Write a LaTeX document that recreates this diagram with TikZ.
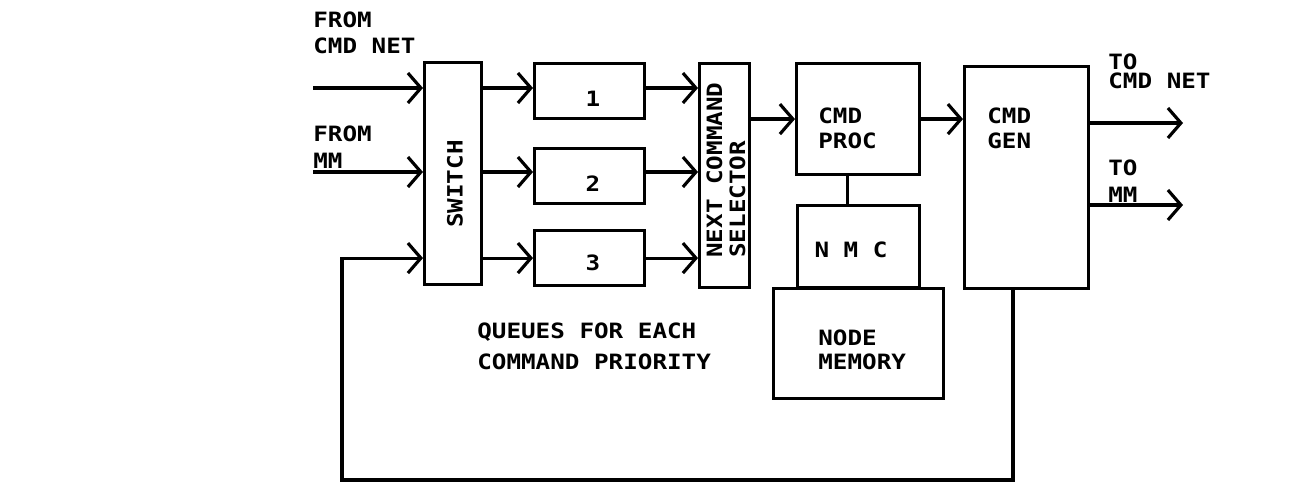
\documentclass[tikz,border=0pt]{standalone}
\usepackage{fontspec}
\newfontfamily\plotfont[FakeStretch=1.15]{DejaVu Sans Mono}
\usetikzlibrary{arrows.meta}

\begin{document}
\begin{tikzpicture}[x=0.02cm,y=-0.02cm,
    blkNC/.style={draw=black,line width=1.8pt,inner sep=0pt,anchor=north west},
    lineNC/.style={line width=1.8pt},
    arrNC/.style={line width=1.8pt,-{Straight Barb[length=0.26cm,width=0.6cm]}},
    txtNC/.style={font=\plotfont\bfseries\fontsize{12}{#1}\selectfont,inner sep=0pt,align=left},
    txtNC/.default=14,
]
\useasboundingbox (0,0) rectangle (1300,491);
% Switch and priority queues
\node[blkNC,minimum width=1.14cm,minimum height=4.44cm] (sw) at (423,61) {};
\node[blkNC,minimum width=2.2cm,minimum height=1.1cm] (q1) at (533,62) {};
\node[blkNC,minimum width=2.2cm,minimum height=1.1cm] (q2) at (533,147) {};
\node[blkNC,minimum width=2.2cm,minimum height=1.1cm] (q3) at (533,229) {};
% Next command selector
\node[blkNC,minimum width=1.0cm,minimum height=4.48cm] (ncs) at (698,62) {};
% Processor, NMC, memory, generator
\node[blkNC,minimum width=2.46cm,minimum height=2.22cm] (proc) at (795,62) {};
\node[blkNC,minimum width=2.44cm,minimum height=1.64cm] (nmc) at (796,204) {};
\node[blkNC,minimum width=3.4cm,minimum height=2.2cm] (mem) at (772,287) {};
\node[blkNC,minimum width=2.48cm,minimum height=4.44cm] (gen) at (963,65) {};
% Texts
\node[txtNC=14.8,anchor=west] (fromNet) at (313,33) {FROM\\CMD NET};
\node[txtNC=15.4,anchor=west] (fromMM) at (313,147) {FROM\\MM};
\node[txtNC=10.8,anchor=west] (toNet) at (1108,71) {TO\\CMD NET};
\node[txtNC=15.4,anchor=west] (toMM) at (1108,181) {TO\\MM};
\node[txtNC,rotate=90] (swTxt) at (455,184) {SWITCH};
\node[txtNC] (q1Txt) at (593,99) {1};
\node[txtNC] (q2Txt) at (593,184) {2};
\node[txtNC] (q3Txt) at (593,263) {3};
\node[txtNC=13.1,rotate=90,anchor=west] (ncsTxt) at (726,258) {NEXT COMMAND\\SELECTOR};
\node[txtNC=14.2,anchor=west] (procTxt) at (818,128) {CMD\\PROC};
\node[txtNC=14.2,anchor=west] (genTxt) at (987,128) {CMD\\GEN};
\node[txtNC] (nmcTxt) at (851,250) {N M C};
\node[txtNC=13.7,anchor=west] (memTxt) at (818,350) {NODE\\MEMORY};
\node[txtNC=17.6,anchor=west] (qTxt) at (477,346) {QUEUES FOR EACH\\COMMAND PRIORITY};
% Free ends
\coordinate (in1) at (313,88);
\coordinate (in2) at (313,172);
\coordinate (out1) at (1183,123);
\coordinate (out2) at (1183,205);
\coordinate (fbR) at (1013,480);
\coordinate (fbL) at (342,480);
% Inputs to switch
\draw[arrNC] (in1) -- (in1 -| sw.west);
\draw[arrNC] (in2) -- (in2 -| sw.west);
% Switch to queues, queues to selector
\draw[arrNC] (sw.east |- in1) -- (q1.west |- in1);
\draw[arrNC] (sw.east |- in2) -- (q2.west |- in2);
\draw[arrNC] (sw.east |- q3.west) -- (q3.west);
\draw[arrNC] (q1.east |- in1) -- (ncs.west |- in1);
\draw[arrNC] (q2.east |- in2) -- (ncs.west |- in2);
\draw[arrNC] (q3.east) -- (ncs.west |- q3.east);
% Selector to processor to generator
\draw[arrNC] (ncs.east |- proc.west) -- (proc.west);
\draw[arrNC] (proc.east) -- (gen.west |- proc.east);
\draw[lineNC] ([xshift=-0.22cm]proc.south) -- ([xshift=-0.22cm]proc.south |- nmc.north);
% Outputs
\draw[arrNC] (gen.east |- out1) -- (out1);
\draw[arrNC] (gen.east |- out2) -- (out2);
% Feedback to switch
\draw[arrNC] (gen.south -| fbR) -- (fbR) -- (fbL) |- (sw.west |- q3.west);
\end{tikzpicture}
\end{document}
